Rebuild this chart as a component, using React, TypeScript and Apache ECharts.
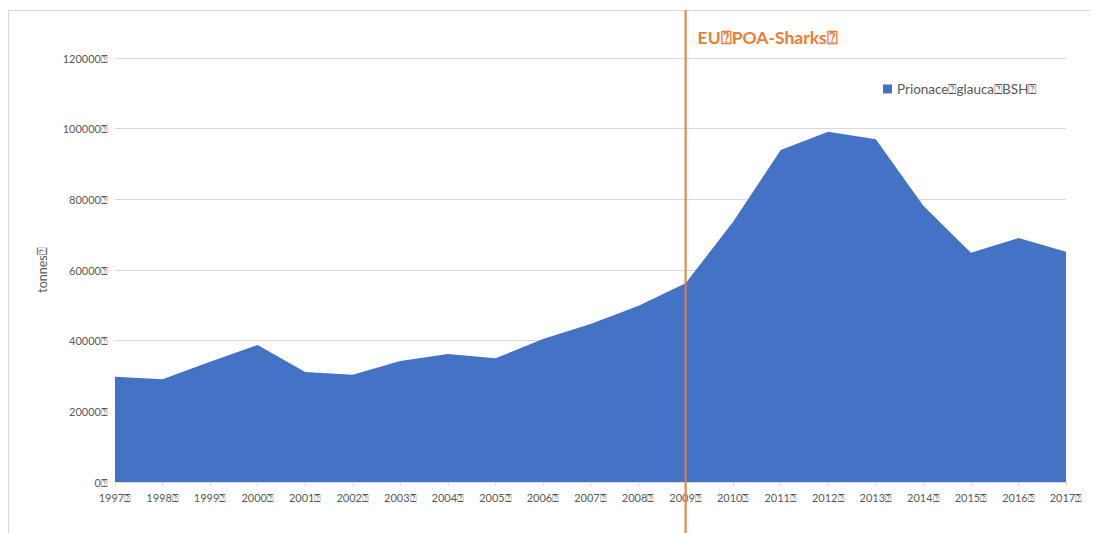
import React, { useEffect, useRef } from "react";
import * as echarts from "echarts";

const years = ["1997","1998","1999","2000","2001","2002","2003","2004","2005","2006","2007","2008","2009","2010","2011","2012","2013","2014","2015","2016","2017"];
const catches = [29800, 29060, 34050, 38770, 31130, 30370, 34240, 36220, 35000, 40470, 44700, 49800, 56230, 73670, 93960, 99140, 96980, 78200, 64900, 69050, 65180];
const yTicks = [0, 20000, 40000, 60000, 80000, 100000, 120000];
const seriesName = "Prionace\u2370glauca\u2370BSH\u2370";
const markerYear = "2009";
const markerLabel = "EU\u2370POA-Sharks\u2370";
const Q = "\u2370";

export default function App() {
  const ref = useRef<HTMLDivElement>(null);
  useEffect(() => {
    const chart = echarts.init(ref.current!, null, { renderer: "svg" });
    const font = "Lato, 'Open Sans', sans-serif";
    chart.setOption({
      animation: false,
      backgroundColor: "#ffffff",
      textStyle: { fontFamily: font },
      grid: { left: 107, right: 33, top: 50, bottom: 51, containLabel: false },
      legend: {
        data: [seriesName],
        left: 870,
        top: 69,
        itemWidth: 9,
        itemHeight: 9,
        itemGap: 6,
        icon: "rect",
        textStyle: { color: "#595959", fontSize: 13.5, fontFamily: font },
      },
      xAxis: {
        type: "category",
        data: years,
        boundaryGap: false,
        axisLine: { lineStyle: { color: "#d9d9d9", width: 1 } },
        axisTick: { show: true, alignWithLabel: true, length: 4, lineStyle: { color: "#d9d9d9" } },
        axisLabel: { color: "#595959", fontSize: 11, margin: 10, interval: 0, formatter: (v: string) => v + Q },
      },
      yAxis: {
        type: "value",
        min: yTicks[0],
        max: yTicks[yTicks.length - 1],
        interval: 20000,
        name: "tonnes" + Q,
        nameLocation: "middle",
        nameGap: 66,
        nameRotate: 90,
        nameTextStyle: { color: "#595959", fontSize: 12.5 },
        axisLine: { show: false },
        axisTick: { show: false },
        axisLabel: { color: "#595959", fontSize: 11, margin: 7, formatter: (v: number) => v + Q },
        splitLine: { lineStyle: { color: "#d9d9d9", width: 1 } },
      },
      series: [
        {
          name: seriesName,
          type: "line",
          data: catches,
          showSymbol: false,
          symbol: "none",
          lineStyle: { width: 0, color: "#4472C4" },
          itemStyle: { color: "#4472C4" },
          areaStyle: { color: "#4472C4", opacity: 1 },
        },
      ],
    });
    const px = chart.convertToPixel({ xAxisIndex: 0 }, markerYear) as number;
    chart.setOption({
      graphic: [
        {
          type: "rect",
          shape: { x: 0.5, y: 2.5, width: 1088, height: 600 },
          style: { fill: "none", stroke: "#d9d9d9", lineWidth: 1 },
          silent: true,
          z: -1,
        },
        {
          type: "line",
          shape: { x1: px, y1: 2, x2: px, y2: 525 },
          style: { stroke: "#ED7D31", lineWidth: 2 },
          z: 10,
        },
        {
          type: "text",
          x: px + 12,
          y: 29,
          style: {
            text: markerLabel,
            fill: "#ED7D31",
            font: "bold 17.5px " + font,
            textVerticalAlign: "middle",
          },
          z: 10,
        },
      ],
    });
    return () => chart.dispose();
  }, []);
  return <div ref={ref} style={{ width: 1091, height: 525 }} />;
}
